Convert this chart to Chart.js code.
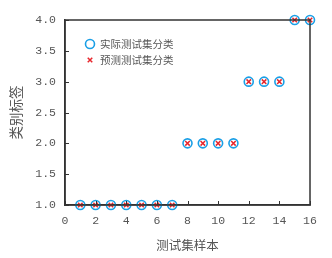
<!DOCTYPE html>
<html>
<head>
<meta charset="utf-8">
<script src="https://cdn.jsdelivr.net/npm/chart.js@4"></script>
<style>
html,body{margin:0;padding:0;background:#fff;}
#wrap{width:332px;height:258px;}
</style>
</head>
<body>
<div id="wrap"><canvas id="c" width="332" height="258"></canvas></div>
<script>
const samples = [1,2,3,4,5,6,7,8,9,10,11,12,13,14,15,16];
const actualClass = [1,1,1,1,1,1,1,2,2,2,2,3,3,3,4,4];
const predictedClass = [1,1,1,1,1,1,1,2,2,2,2,3,3,3,4,4];
const xTicks = [0,2,4,6,8,10,12,14,16];
const yTicks = [1.0,1.5,2.0,2.5,3.0,3.5,4.0];
const seriesLabels = ['实际测试集分类','预测测试集分类'];
const xTitle = '测试集样本';
const yTitle = '类别标签';

const numFont = {family:"'Liberation Mono', 'DejaVu Sans Mono', monospace", size:11.5};
const cjkFont = "'Noto Sans CJK SC', sans-serif";
const axisColor = '#333';
const textColor = '#555';

const boxTicks = {
  id:'boxTicks',
  afterDraw(chart){
    const ctx = chart.ctx, a = chart.chartArea;
    ctx.save();
    ctx.strokeStyle = axisColor;
    ctx.lineWidth = 1.5;
    ctx.strokeRect(a.left, a.top, a.right - a.left, a.bottom - a.top);
    ctx.lineWidth = 1;
    const xs = chart.scales.x, ys = chart.scales.y;
    ctx.beginPath();
    xTicks.forEach(v => { const p = Math.round(xs.getPixelForValue(v)) + 0.5; ctx.moveTo(p, a.bottom); ctx.lineTo(p, a.bottom - 4); });
    yTicks.forEach(v => { const p = Math.round(ys.getPixelForValue(v)) + 0.5; ctx.moveTo(a.left, p); ctx.lineTo(a.left + 4, p); });
    ctx.stroke();
    ctx.restore();
  }
};

const innerLegend = {
  id:'innerLegend',
  afterDraw(chart){
    const ctx = chart.ctx;
    ctx.save();
    const rows = [44, 60];
    chart.data.datasets.forEach((ds, i) => {
      ctx.strokeStyle = ds.borderColor;
      ctx.fillStyle = 'rgba(0,0,0,0)';
      ctx.lineWidth = ds.borderWidth;
      Chart.helpers.drawPoint(ctx, {pointStyle: ds.pointStyle, radius: ds.pointRadius, borderWidth: ds.borderWidth}, 90, rows[i]);
      ctx.fillStyle = textColor;
      ctx.font = "10.5px " + cjkFont;
      ctx.textBaseline = 'middle';
      ctx.textAlign = 'left';
      ctx.fillText(ds.label, 100, rows[i]);
    });
    ctx.restore();
  }
};

new Chart(document.getElementById('c'), {
  type:'scatter',
  data:{
    datasets:[
      {label:seriesLabels[0], data:samples.map((x,i)=>({x, y:actualClass[i]})),
       pointStyle:'circle', pointRadius:4.5, pointHoverRadius:4.5, borderColor:'#1a9fe6', backgroundColor:'rgba(0,0,0,0)', borderWidth:1.6, clip:false},
      {label:seriesLabels[1], data:samples.map((x,i)=>({x, y:predictedClass[i]})),
       pointStyle:'crossRot', pointRadius:3.2, pointHoverRadius:3.2, borderColor:'#e8262c', backgroundColor:'#e8262c', borderWidth:1.5, clip:false}
    ]
  },
  options:{
    responsive:false,
    animation:false,
    events:[],
    layout:{padding:{top:20, right:22, left:0, bottom:0}},
    plugins:{legend:{display:false}, tooltip:{enabled:false}},
    scales:{
      x:{
        type:'linear', min:0, max:16,
        afterBuildTicks(s){ s.ticks = xTicks.map(v=>({value:v})); },
        afterFit(s){ s.height = 53; },
        grid:{display:false, drawTicks:false},
        border:{display:true, color:axisColor, width:1.5},
        ticks:{padding:9, color:textColor, font:numFont, maxRotation:0, callback:v=>String(v)},
        title:{display:true, text:xTitle, color:textColor, font:{family:cjkFont, size:12.5}, padding:{top:6, bottom:5}}
      },
      y:{
        type:'linear', min:1, max:4,
        afterBuildTicks(s){ s.ticks = yTicks.map(v=>({value:v})); },
        afterFit(s){ s.width = 65; },
        grid:{display:false, drawTicks:false},
        border:{display:true, color:axisColor, width:1.5},
        ticks:{padding:9, color:textColor, font:numFont, callback:v=>Number(v).toFixed(1)},
        title:{display:true, text:yTitle, color:textColor, font:{family:cjkFont, size:13.5}, padding:{top:8, bottom:0}}
      }
    }
  },
  plugins:[boxTicks, innerLegend]
});
</script>
</body>
</html>
